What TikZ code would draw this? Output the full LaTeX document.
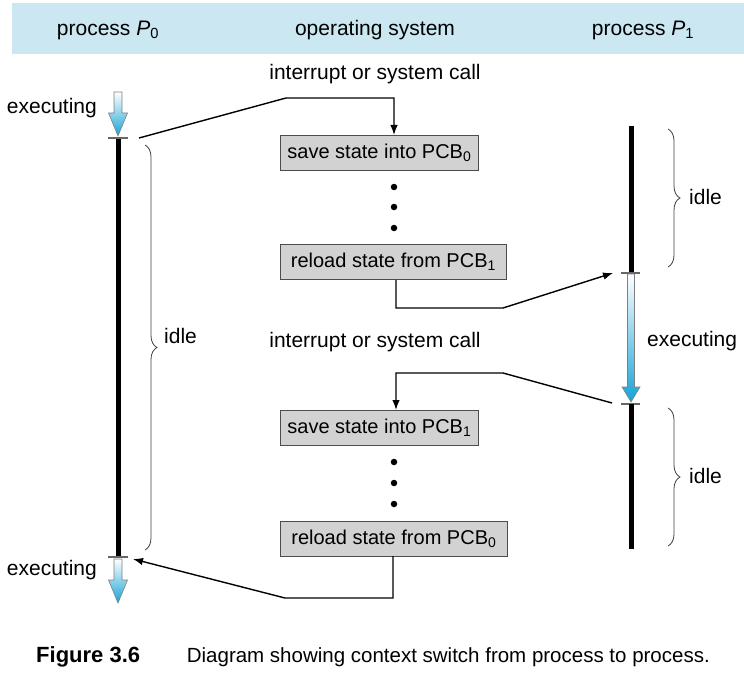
\documentclass[tikz,border=0pt]{standalone}
\usepackage{fontspec}
\setmainfont{Liberation Sans}
\usetikzlibrary{decorations.pathreplacing,arrows.meta}
\definecolor{hdr}{RGB}{202,231,242}
\definecolor{boxfill}{RGB}{210,210,210}
\definecolor{execblue}{RGB}{22,163,214}
\begin{document}
\begin{tikzpicture}[x=1pt,y=-1pt,
  hdrtext/.style={font=\fontsize{21}{25}\selectfont, anchor=center, inner sep=0pt},
  lbl/.style={font=\fontsize{21}{25}\selectfont, inner sep=0pt},
  osbox/.style={draw=black!70, fill=boxfill, line width=0.8pt, minimum height=35pt, inner sep=0pt, font=\fontsize{20}{24}\selectfont, anchor=north west},
  conn/.style={line width=1.4pt, -{Latex[length=10pt,width=7.5pt]}},
  tickln/.style={draw=black!60, line width=1.2pt},
  bar/.style={line width=5pt},
  brc/.style={decorate, decoration={brace, amplitude=12pt}, line width=0.8pt, draw=black!75},
  dotn/.style={circle, fill=black, inner sep=0pt, minimum size=6.5pt},
  exarrow/.style={top color=white, bottom color=execblue, draw=black!50, line width=0.6pt}
]
\useasboundingbox (0,0) rectangle (744,674);
\fill[hdr] (12,3) rectangle (744,54);
\node[hdrtext] (h0) at (108,30) {process \textit{P}\textsubscript{0}};
\node[hdrtext] (h1) at (375,30) {operating system};
\node[hdrtext] (h2) at (643,30) {process \textit{P}\textsubscript{1}};

% OS boxes
\node[osbox, minimum width=198pt] (s0) at (280,135) {save state into PCB\textsubscript{0}};
\node[osbox, minimum width=226pt] (r1) at (280,244) {reload state from PCB\textsubscript{1}};
\node[osbox, minimum width=198pt] (s1) at (280,410) {save state into PCB\textsubscript{1}};
\node[osbox, minimum width=227pt] (r0) at (280,521) {reload state from PCB\textsubscript{0}};

\foreach \yy in {187,207,228,462,483,504} \node[dotn] at (394,\yy) {};

\node[lbl] (int1) at (375,74) {interrupt or system call};
\node[lbl] (int2) at (375,342) {interrupt or system call};

% P0 timeline
\shadedraw[exarrow] (114,92) -- (122,92) -- (122,113) -- (127.5,113) -- (118,136) -- (108.5,113) -- (114,113) -- cycle;
\draw[bar] (118,138) -- (118,557);
\draw[tickln] (108,138) -- (128,138);
\draw[tickln] (108,557) -- (128,557);
\shadedraw[exarrow] (114,559) -- (122,559) -- (122,580) -- (127.5,580) -- (118,603) -- (108.5,580) -- (114,580) -- cycle;
\node[lbl, anchor=east] (ex0) at (97,108) {executing};
\node[lbl, anchor=east] (ex0b) at (97,570) {executing};
\draw[brc] (145,145) -- (145,550);
\node[lbl, anchor=west] (idle0) at (164,336) {idle};

% P1 timeline
\draw[bar] (631,126) -- (631,273);
\draw[tickln] (621,273) -- (640,273);
\shadedraw[exarrow] (627.5,274) -- (634.5,274) -- (634.5,387) -- (640,387) -- (631,402) -- (622,387) -- (627.5,387) -- cycle;
\draw[tickln] (621,404) -- (640,404);
\draw[bar] (631,404) -- (631,549);
\draw[brc] (668,129) -- (668,267);
\node[lbl, anchor=west] (idle1) at (689,197) {idle};
\node[lbl, anchor=west] (ex1) at (647,341) {executing};
\draw[brc] (668,408) -- (668,546);
\node[lbl, anchor=west] (idle2) at (689,476) {idle};

% connectors
\coordinate (p0out) at (139,138);
\coordinate (k1) at (286,98);
\coordinate (s0in) at (394,135);
\draw[conn] (p0out) -- (k1) -| (s0in);

\coordinate (r1out) at (396,280);
\coordinate (k2) at (503,308);
\coordinate (p1in) at (613,273);
\draw[conn] (r1out) |- (k2) -- (p1in);

\coordinate (p1out) at (612,403);
\coordinate (k3) at (503,373);
\coordinate (s1in) at (396,410);
\draw[conn] (p1out) -- (k3) -| (s1in);

\coordinate (r0out) at (393,556);
\coordinate (k4) at (285,598);
\coordinate (p0in) at (133,559);
\draw[conn] (r0out) |- (k4) -- (p0in);

% caption
\node[anchor=west, inner sep=0pt, font=\fontsize{22}{26}\selectfont\bfseries] (fig) at (36,657) {Figure 3.6};
\node[anchor=east, inner sep=0pt, font=\fontsize{20.5}{24}\selectfont] (cap) at (710,657) {Diagram showing context switch from process to process.};
\end{tikzpicture}
\end{document}
